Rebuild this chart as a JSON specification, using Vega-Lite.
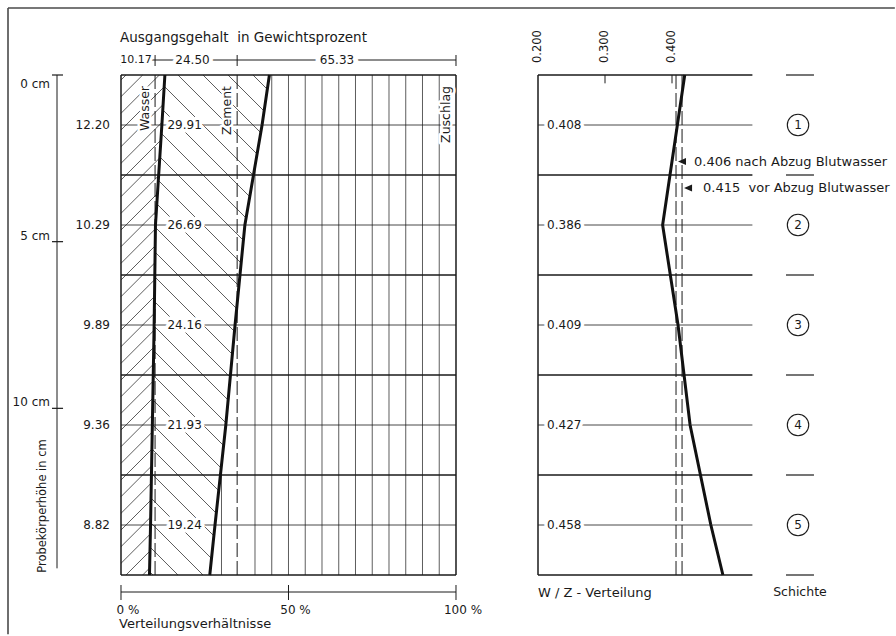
{
"$schema": "https://vega.github.io/schema/vega-lite/v6.json",
"width": 896, "height": 636,
"autosize": {"type": "fit", "contains": "padding"},
"padding": 0,
"background": "#ffffff",
"config": {"view": {"stroke": null}, "axis": {"disable": true}, "legend": {"disable": true}, "text": {"font": "DejaVu Sans", "color": "#1a1a1a"}, "rule": {"color": "#1a1a1a"}},
"datasets": {
"schichten": [
{"schicht": 1, "mitte": 1.5, "wasser": 12.20, "zement": 29.91, "wz": 0.408},
{"schicht": 2, "mitte": 4.5, "wasser": 10.29, "zement": 26.69, "wz": 0.386},
{"schicht": 3, "mitte": 7.5, "wasser": 9.89, "zement": 24.16, "wz": 0.409},
{"schicht": 4, "mitte": 10.5, "wasser": 9.36, "zement": 21.93, "wz": 0.427},
{"schicht": 5, "mitte": 13.5, "wasser": 8.82, "zement": 19.24, "wz": 0.458}
],
"profil": [
{"h": 0, "wasser": 13.1, "summe": 44.3, "wz": 0.419},
{"h": 1.5, "wasser": 12.2, "summe": 42.11, "wz": 0.408},
{"h": 4.5, "wasser": 10.29, "summe": 36.98, "wz": 0.386},
{"h": 7.5, "wasser": 9.89, "summe": 34.05, "wz": 0.409},
{"h": 10.5, "wasser": 9.36, "summe": 31.29, "wz": 0.427},
{"h": 13.5, "wasser": 8.82, "summe": 28.06, "wz": 0.458},
{"h": 15, "wasser": 8.5, "summe": 26.5, "wz": 0.476}
],
"grenzen": [{"h": 0}, {"h": 3}, {"h": 6}, {"h": 9}, {"h": 12}, {"h": 15}],
"ausgang": [
{"stoff": "Wasser", "von": 0, "bis": 10.17, "anteil": 10.17},
{"stoff": "Zement", "von": 10.17, "bis": 34.67, "anteil": 24.50},
{"stoff": "Zuschlag", "von": 34.67, "bis": 100, "anteil": 65.33}
],
"raster": [
{"p": 30, "von": 11.7}, {"p": 40, "von": 2.73}, {"p": 45, "von": 0}, {"p": 50, "von": 0}, {"p": 55, "von": 0}, {"p": 60, "von": 0}, {"p": 65, "von": 0}, {"p": 70, "von": 0}, {"p": 75, "von": 0}, {"p": 80, "von": 0}, {"p": 85, "von": 0}, {"p": 90, "von": 0}, {"p": 95, "von": 0}
],
"schraffur_wasser": [
{"x1": 0, "y1": 0.15, "x2": 1.49, "y2": 0},
{"x1": 0, "y1": 0.65, "x2": 6.47, "y2": 0},
{"x1": 0, "y1": 1.15, "x2": 11.44, "y2": 0},
{"x1": 0, "y1": 1.65, "x2": 12.89, "y2": 0.355},
{"x1": 0, "y1": 2.15, "x2": 12.57, "y2": 0.887},
{"x1": 0, "y1": 2.65, "x2": 12.25, "y2": 1.419},
{"x1": 0, "y1": 3.15, "x2": 11.91, "y2": 1.953},
{"x1": 0, "y1": 3.65, "x2": 11.57, "y2": 2.487},
{"x1": 0, "y1": 4.15, "x2": 11.23, "y2": 3.021},
{"x1": 0, "y1": 4.65, "x2": 10.89, "y2": 3.555},
{"x1": 0, "y1": 5.15, "x2": 10.55, "y2": 4.089},
{"x1": 0, "y1": 5.65, "x2": 10.27, "y2": 4.617},
{"x1": 0, "y1": 6.15, "x2": 10.21, "y2": 5.124},
{"x1": 0, "y1": 6.65, "x2": 10.14, "y2": 5.631},
{"x1": 0, "y1": 7.15, "x2": 10.07, "y2": 6.138},
{"x1": 0, "y1": 7.65, "x2": 10.00, "y2": 6.645},
{"x1": 0, "y1": 8.15, "x2": 9.94, "y2": 7.152},
{"x1": 0, "y1": 8.65, "x2": 9.86, "y2": 7.659},
{"x1": 0, "y1": 9.15, "x2": 9.77, "y2": 8.169},
{"x1": 0, "y1": 9.65, "x2": 9.68, "y2": 8.676},
{"x1": 0, "y1": 10.15, "x2": 9.59, "y2": 9.186},
{"x1": 0, "y1": 10.65, "x2": 9.50, "y2": 9.696},
{"x1": 0, "y1": 11.15, "x2": 9.41, "y2": 10.203},
{"x1": 0, "y1": 11.65, "x2": 9.32, "y2": 10.713},
{"x1": 0, "y1": 12.15, "x2": 9.23, "y2": 11.223},
{"x1": 0, "y1": 12.65, "x2": 9.14, "y2": 11.730},
{"x1": 0, "y1": 13.15, "x2": 9.05, "y2": 12.240},
{"x1": 0, "y1": 13.65, "x2": 8.96, "y2": 12.750},
{"x1": 0, "y1": 14.15, "x2": 8.87, "y2": 13.260},
{"x1": 0, "y1": 14.65, "x2": 8.76, "y2": 13.770},
{"x1": 1.49, "y1": 15, "x2": 8.65, "y2": 14.28},
{"x1": 6.47, "y1": 15, "x2": 8.55, "y2": 14.79}
],
"schraffur_zement": [
{"x1": 39.40, "y1": 0, "x2": 44.78, "y2": 0.54},
{"x1": 31.94, "y1": 0, "x2": 44.78, "y2": 1.29},
{"x1": 24.48, "y1": 0, "x2": 44.78, "y2": 2.04},
{"x1": 17.01, "y1": 0, "x2": 44.78, "y2": 2.79},
{"x1": 9.55, "y1": 0, "x2": 44.78, "y2": 3.54},
{"x1": 2.09, "y1": 0, "x2": 44.78, "y2": 4.29},
{"x1": 0, "y1": 0.54, "x2": 44.78, "y2": 5.04},
{"x1": 0, "y1": 1.29, "x2": 44.78, "y2": 5.79},
{"x1": 0, "y1": 2.04, "x2": 44.78, "y2": 6.54},
{"x1": 0, "y1": 2.79, "x2": 44.78, "y2": 7.29},
{"x1": 0, "y1": 3.54, "x2": 44.78, "y2": 8.04},
{"x1": 0, "y1": 4.29, "x2": 44.78, "y2": 8.79},
{"x1": 0, "y1": 5.04, "x2": 44.78, "y2": 9.54},
{"x1": 0, "y1": 5.79, "x2": 44.78, "y2": 10.29},
{"x1": 0, "y1": 6.54, "x2": 44.78, "y2": 11.04},
{"x1": 0, "y1": 7.29, "x2": 44.78, "y2": 11.79},
{"x1": 0, "y1": 8.04, "x2": 44.78, "y2": 12.54},
{"x1": 0, "y1": 8.79, "x2": 44.78, "y2": 13.29},
{"x1": 0, "y1": 9.54, "x2": 44.78, "y2": 14.04},
{"x1": 0, "y1": 10.29, "x2": 44.78, "y2": 14.79},
{"x1": 0, "y1": 11.04, "x2": 39.40, "y2": 15},
{"x1": 0, "y1": 11.79, "x2": 31.94, "y2": 15},
{"x1": 0, "y1": 12.54, "x2": 24.48, "y2": 15},
{"x1": 0, "y1": 13.29, "x2": 17.01, "y2": 15},
{"x1": 0, "y1": 14.04, "x2": 9.55, "y2": 15},
{"x1": 0, "y1": 14.79, "x2": 2.09, "y2": 15}
],
"hoehe": [{"cm": 0, "label": "0 cm"}, {"cm": 5, "label": "5 cm"}, {"cm": 10, "label": "10 cm"}],
"prozent": [{"p": 0, "label": "0 %"}, {"p": 50, "label": "50 %"}, {"p": 100, "label": "100 %"}],
"wz_achse": [{"wz": 0.2}, {"wz": 0.3}, {"wz": 0.4}],
"wz_gesamt": [
{"wz": 0.406, "beschriftung": "0.406 nach Abzug Blutwasser"},
{"wz": 0.415, "beschriftung": "0.415\u00a0 vor Abzug Blutwasser"}
]
},
"resolve": {"scale": {"x": "independent"}},
"layer": [
{"layer": [
{"data": {"values": [{}]}, "mark": {"type": "rule", "strokeWidth": 1.6, "color": "#4a4a4a"}, "encoding": {"x": {"datum": -33.73, "type": "quantitative", "scale": {"domain": [-36.119, 231.343], "nice": false, "zero": false}}, "x2": {"datum": 231}, "y": {"datum": -2.01, "type": "quantitative", "scale": {"domain": [-2.25, 16.83], "nice": false, "zero": false, "reverse": true}}}},
{"data": {"values": [{}]}, "mark": {"type": "rule", "strokeWidth": 1.6, "color": "#4a4a4a"}, "encoding": {"x": {"datum": -33.73, "type": "quantitative", "scale": {"domain": [-36.119, 231.343], "nice": false, "zero": false}}, "y": {"datum": -2.01, "type": "quantitative", "scale": {"domain": [-2.25, 16.83], "nice": false, "zero": false, "reverse": true}}, "y2": {"datum": 16.78}}},
{"data": {"name": "schraffur_zement"}, "mark": {"type": "rule", "strokeWidth": 0.8, "color": "#333333"}, "encoding": {"x": {"field": "x1", "type": "quantitative", "scale": {"domain": [-36.119, 231.343], "nice": false, "zero": false}}, "y": {"field": "y1", "type": "quantitative", "scale": {"domain": [-2.25, 16.83], "nice": false, "zero": false, "reverse": true}}, "x2": {"field": "x2"}, "y2": {"field": "y2"}}},
{"data": {"name": "profil"}, "mark": {"type": "area", "orient": "horizontal", "color": "#ffffff", "opacity": 1}, "encoding": {"y": {"field": "h", "type": "quantitative", "scale": {"domain": [-2.25, 16.83], "nice": false, "zero": false, "reverse": true}}, "x": {"field": "summe", "type": "quantitative", "scale": {"domain": [-36.119, 231.343], "nice": false, "zero": false}}, "x2": {"datum": 46}}},
{"data": {"name": "profil"}, "mark": {"type": "area", "orient": "horizontal", "color": "#ffffff", "opacity": 1}, "encoding": {"y": {"field": "h", "type": "quantitative", "scale": {"domain": [-2.25, 16.83], "nice": false, "zero": false, "reverse": true}}, "x": {"field": "wasser", "type": "quantitative", "scale": {"domain": [-36.119, 231.343], "nice": false, "zero": false}}, "x2": {"datum": -1}}},
{"data": {"name": "schraffur_wasser"}, "mark": {"type": "rule", "strokeWidth": 0.8, "color": "#333333"}, "encoding": {"x": {"field": "x1", "type": "quantitative", "scale": {"domain": [-36.119, 231.343], "nice": false, "zero": false}}, "y": {"field": "y1", "type": "quantitative", "scale": {"domain": [-2.25, 16.83], "nice": false, "zero": false, "reverse": true}}, "x2": {"field": "x2"}, "y2": {"field": "y2"}}},
{"data": {"name": "raster"}, "mark": {"type": "rule", "strokeWidth": 0.8, "color": "#333333"}, "encoding": {"x": {"field": "p", "type": "quantitative", "scale": {"domain": [-36.119, 231.343], "nice": false, "zero": false}}, "y": {"field": "von", "type": "quantitative", "scale": {"domain": [-2.25, 16.83], "nice": false, "zero": false, "reverse": true}}, "y2": {"datum": 15}}},
{"data": {"name": "ausgang"}, "transform": [{"filter": "datum.stoff != 'Zuschlag'"}], "mark": {"type": "rule", "strokeWidth": 1, "strokeDash": [14, 4]}, "encoding": {"x": {"field": "bis", "type": "quantitative", "scale": {"domain": [-36.119, 231.343], "nice": false, "zero": false}}, "y": {"datum": 0, "type": "quantitative", "scale": {"domain": [-2.25, 16.83], "nice": false, "zero": false, "reverse": true}}, "y2": {"datum": 15}}},
{"data": {"name": "schichten"}, "mark": {"type": "rule", "strokeWidth": 0.8}, "encoding": {"x": {"datum": 0, "type": "quantitative", "scale": {"domain": [-36.119, 231.343], "nice": false, "zero": false}}, "x2": {"datum": 100}, "y": {"field": "mitte", "type": "quantitative", "scale": {"domain": [-2.25, 16.83], "nice": false, "zero": false, "reverse": true}}}},
{"data": {"name": "grenzen"}, "mark": {"type": "rule", "strokeWidth": 1.5}, "encoding": {"x": {"datum": 0, "type": "quantitative", "scale": {"domain": [-36.119, 231.343], "nice": false, "zero": false}}, "x2": {"datum": 100}, "y": {"field": "h", "type": "quantitative", "scale": {"domain": [-2.25, 16.83], "nice": false, "zero": false, "reverse": true}}}},
{"data": {"values": [{}]}, "mark": {"type": "rule", "strokeWidth": 1.5}, "encoding": {"x": {"datum": 0, "type": "quantitative", "scale": {"domain": [-36.119, 231.343], "nice": false, "zero": false}}, "y": {"datum": 0, "type": "quantitative", "scale": {"domain": [-2.25, 16.83], "nice": false, "zero": false, "reverse": true}}, "y2": {"datum": 15}}},
{"data": {"values": [{}]}, "mark": {"type": "rule", "strokeWidth": 1.5}, "encoding": {"x": {"datum": 100, "type": "quantitative", "scale": {"domain": [-36.119, 231.343], "nice": false, "zero": false}}, "y": {"datum": 0, "type": "quantitative", "scale": {"domain": [-2.25, 16.83], "nice": false, "zero": false, "reverse": true}}, "y2": {"datum": 15}}},
{"data": {"name": "profil"}, "mark": {"type": "line", "strokeWidth": 3, "color": "#111111"}, "encoding": {"x": {"field": "wasser", "type": "quantitative", "scale": {"domain": [-36.119, 231.343], "nice": false, "zero": false}}, "y": {"field": "h", "type": "quantitative", "scale": {"domain": [-2.25, 16.83], "nice": false, "zero": false, "reverse": true}}, "order": {"field": "h", "type": "quantitative"}}},
{"data": {"name": "profil"}, "mark": {"type": "line", "strokeWidth": 3, "color": "#111111"}, "encoding": {"x": {"field": "summe", "type": "quantitative", "scale": {"domain": [-36.119, 231.343], "nice": false, "zero": false}}, "y": {"field": "h", "type": "quantitative", "scale": {"domain": [-2.25, 16.83], "nice": false, "zero": false, "reverse": true}}, "order": {"field": "h", "type": "quantitative"}}},
{"data": {"name": "schichten"}, "encoding": {"x": {"datum": 19, "type": "quantitative", "scale": {"domain": [-36.119, 231.343], "nice": false, "zero": false}}, "y": {"field": "mitte", "type": "quantitative", "scale": {"domain": [-2.25, 16.83], "nice": false, "zero": false, "reverse": true}}, "text": {"field": "zement", "type": "quantitative", "format": ".2f"}},
 "layer": [
 {"mark": {"type": "text", "fontSize": 12, "align": "center", "baseline": "middle", "color": "#ffffff", "stroke": "#ffffff", "strokeWidth": 7, "strokeJoin": "round"}},
 {"mark": {"type": "text", "fontSize": 12, "align": "center", "baseline": "middle"}}
 ]},
{"data": {"name": "ausgang"}, "encoding": {"x": {"field": "bis", "type": "quantitative", "scale": {"domain": [-36.119, 231.343], "nice": false, "zero": false}}, "y": {"datum": 0.33, "type": "quantitative", "scale": {"domain": [-2.25, 16.83], "nice": false, "zero": false, "reverse": true}}, "text": {"field": "stoff", "type": "nominal"}},
 "layer": [
 {"mark": {"type": "text", "fontSize": 12.5, "angle": 270, "align": "right", "baseline": "middle", "dy": -10, "color": "#ffffff", "stroke": "#ffffff", "strokeWidth": 5, "strokeJoin": "round"}},
 {"mark": {"type": "text", "fontSize": 12.5, "angle": 270, "align": "right", "baseline": "middle", "dy": -10}}
 ]},
{"data": {"name": "schichten"}, "mark": {"type": "text", "fontSize": 12, "align": "right", "baseline": "middle"}, "encoding": {"x": {"datum": -3.3, "type": "quantitative", "scale": {"domain": [-36.119, 231.343], "nice": false, "zero": false}}, "y": {"field": "mitte", "type": "quantitative", "scale": {"domain": [-2.25, 16.83], "nice": false, "zero": false, "reverse": true}}, "text": {"field": "wasser", "type": "quantitative", "format": ".2f"}}},
{"data": {"values": [{}]}, "mark": {"type": "text", "fontSize": 13.5, "align": "left", "baseline": "middle", "dx": -1, "text": "Ausgangsgehalt\u00a0 in Gewichtsprozent"}, "encoding": {"x": {"datum": 0, "type": "quantitative", "scale": {"domain": [-36.119, 231.343], "nice": false, "zero": false}}, "y": {"datum": -1.11, "type": "quantitative", "scale": {"domain": [-2.25, 16.83], "nice": false, "zero": false, "reverse": true}}}},
{"data": {"values": [{}]}, "mark": {"type": "rule", "strokeWidth": 1}, "encoding": {"x": {"datum": 0, "type": "quantitative", "scale": {"domain": [-36.119, 231.343], "nice": false, "zero": false}}, "x2": {"datum": 100}, "y": {"datum": -0.45, "type": "quantitative", "scale": {"domain": [-2.25, 16.83], "nice": false, "zero": false, "reverse": true}}}},
{"data": {"name": "ausgang"}, "mark": {"type": "rule", "strokeWidth": 1}, "encoding": {"x": {"field": "bis", "type": "quantitative", "scale": {"domain": [-36.119, 231.343], "nice": false, "zero": false}}, "y": {"datum": -0.6, "type": "quantitative", "scale": {"domain": [-2.25, 16.83], "nice": false, "zero": false, "reverse": true}}, "y2": {"datum": -0.27}}},
{"data": {"name": "ausgang"}, "transform": [{"filter": "datum.stoff == 'Wasser'"}], "mark": {"type": "rule", "strokeWidth": 1}, "encoding": {"x": {"field": "von", "type": "quantitative", "scale": {"domain": [-36.119, 231.343], "nice": false, "zero": false}}, "y": {"datum": -0.6, "type": "quantitative", "scale": {"domain": [-2.25, 16.83], "nice": false, "zero": false, "reverse": true}}, "y2": {"datum": -0.27}}},
{"data": {"name": "ausgang"}, "transform": [{"filter": "datum.stoff == 'Wasser'"}], "encoding": {"x": {"datum": 4.5, "type": "quantitative", "scale": {"domain": [-36.119, 231.343], "nice": false, "zero": false}}, "y": {"datum": -0.45, "type": "quantitative", "scale": {"domain": [-2.25, 16.83], "nice": false, "zero": false, "reverse": true}}, "text": {"field": "anteil", "type": "quantitative", "format": ".2f"}},
 "layer": [
 {"mark": {"type": "text", "fontSize": 11, "align": "center", "baseline": "middle", "color": "#ffffff", "stroke": "#ffffff", "strokeWidth": 6, "strokeJoin": "round"}},
 {"mark": {"type": "text", "fontSize": 11, "align": "center", "baseline": "middle"}}
 ]},
{"data": {"name": "ausgang"}, "transform": [{"filter": "datum.stoff == 'Zement'"}], "encoding": {"x": {"datum": 21.34, "type": "quantitative", "scale": {"domain": [-36.119, 231.343], "nice": false, "zero": false}}, "y": {"datum": -0.45, "type": "quantitative", "scale": {"domain": [-2.25, 16.83], "nice": false, "zero": false, "reverse": true}}, "text": {"field": "anteil", "type": "quantitative", "format": ".2f"}},
 "layer": [
 {"mark": {"type": "text", "fontSize": 12, "align": "center", "baseline": "middle", "color": "#ffffff", "stroke": "#ffffff", "strokeWidth": 8, "strokeJoin": "round"}},
 {"mark": {"type": "text", "fontSize": 12, "align": "center", "baseline": "middle"}}
 ]},
{"data": {"name": "ausgang"}, "transform": [{"filter": "datum.stoff == 'Zuschlag'"}], "encoding": {"x": {"datum": 64.48, "type": "quantitative", "scale": {"domain": [-36.119, 231.343], "nice": false, "zero": false}}, "y": {"datum": -0.45, "type": "quantitative", "scale": {"domain": [-2.25, 16.83], "nice": false, "zero": false, "reverse": true}}, "text": {"field": "anteil", "type": "quantitative", "format": ".2f"}},
 "layer": [
 {"mark": {"type": "text", "fontSize": 12, "align": "center", "baseline": "middle", "color": "#ffffff", "stroke": "#ffffff", "strokeWidth": 10, "strokeJoin": "round"}},
 {"mark": {"type": "text", "fontSize": 12, "align": "center", "baseline": "middle"}}
 ]},
{"data": {"values": [{}]}, "mark": {"type": "rule", "strokeWidth": 1}, "encoding": {"x": {"datum": 0, "type": "quantitative", "scale": {"domain": [-36.119, 231.343], "nice": false, "zero": false}}, "x2": {"datum": 100}, "y": {"datum": 15.51, "type": "quantitative", "scale": {"domain": [-2.25, 16.83], "nice": false, "zero": false, "reverse": true}}}},
{"data": {"name": "prozent"}, "mark": {"type": "rule", "strokeWidth": 1}, "encoding": {"x": {"field": "p", "type": "quantitative", "scale": {"domain": [-36.119, 231.343], "nice": false, "zero": false}}, "y": {"datum": 15.3, "type": "quantitative", "scale": {"domain": [-2.25, 16.83], "nice": false, "zero": false, "reverse": true}}, "y2": {"datum": 15.75}}},
{"data": {"name": "prozent"}, "mark": {"type": "text", "fontSize": 12, "align": "center", "baseline": "middle", "dx": 7}, "encoding": {"x": {"field": "p", "type": "quantitative", "scale": {"domain": [-36.119, 231.343], "nice": false, "zero": false}}, "y": {"datum": 16.06, "type": "quantitative", "scale": {"domain": [-2.25, 16.83], "nice": false, "zero": false, "reverse": true}}, "text": {"field": "label", "type": "nominal"}}},
{"data": {"values": [{}]}, "mark": {"type": "text", "fontSize": 13, "align": "left", "baseline": "middle", "dx": -2, "text": "Verteilungsverhältnisse"}, "encoding": {"x": {"datum": 0, "type": "quantitative", "scale": {"domain": [-36.119, 231.343], "nice": false, "zero": false}}, "y": {"datum": 16.46, "type": "quantitative", "scale": {"domain": [-2.25, 16.83], "nice": false, "zero": false, "reverse": true}}}},
{"data": {"values": [{}]}, "mark": {"type": "rule", "strokeWidth": 1}, "encoding": {"x": {"datum": -19.1, "type": "quantitative", "scale": {"domain": [-36.119, 231.343], "nice": false, "zero": false}}, "y": {"datum": 0, "type": "quantitative", "scale": {"domain": [-2.25, 16.83], "nice": false, "zero": false, "reverse": true}}, "y2": {"datum": 14.8}}},
{"data": {"name": "hoehe"}, "mark": {"type": "rule", "strokeWidth": 1.2}, "encoding": {"x": {"datum": -20.6, "type": "quantitative", "scale": {"domain": [-36.119, 231.343], "nice": false, "zero": false}}, "x2": {"datum": -17.3}, "y": {"field": "cm", "type": "quantitative", "scale": {"domain": [-2.25, 16.83], "nice": false, "zero": false, "reverse": true}}}},
{"data": {"name": "hoehe"}, "transform": [{"filter": "datum.cm == 0"}], "mark": {"type": "text", "fontSize": 12, "align": "right", "baseline": "alphabetic", "dy": 13}, "encoding": {"x": {"datum": -21.2, "type": "quantitative", "scale": {"domain": [-36.119, 231.343], "nice": false, "zero": false}}, "y": {"field": "cm", "type": "quantitative", "scale": {"domain": [-2.25, 16.83], "nice": false, "zero": false, "reverse": true}}, "text": {"field": "label", "type": "nominal"}}},
{"data": {"name": "hoehe"}, "transform": [{"filter": "datum.cm > 0"}], "mark": {"type": "text", "fontSize": 12, "align": "right", "baseline": "alphabetic", "dy": -2}, "encoding": {"x": {"datum": -21.2, "type": "quantitative", "scale": {"domain": [-36.119, 231.343], "nice": false, "zero": false}}, "y": {"field": "cm", "type": "quantitative", "scale": {"domain": [-2.25, 16.83], "nice": false, "zero": false, "reverse": true}}, "text": {"field": "label", "type": "nominal"}}},
{"data": {"values": [{}]}, "mark": {"type": "text", "fontSize": 11.5, "angle": 270, "align": "center", "baseline": "middle", "text": "Probekörperhöhe in cm"}, "encoding": {"x": {"datum": -23.3, "type": "quantitative", "scale": {"domain": [-36.119, 231.343], "nice": false, "zero": false}}, "y": {"datum": 12.93, "type": "quantitative", "scale": {"domain": [-2.25, 16.83], "nice": false, "zero": false, "reverse": true}}}}
]},
{"layer": [
{"data": {"name": "wz_gesamt"}, "mark": {"type": "rule", "strokeWidth": 1, "strokeDash": [14, 4]}, "encoding": {"x": {"field": "wz", "type": "quantitative", "scale": {"domain": [-0.60299, 0.73433], "nice": false, "zero": false}}, "y": {"datum": 0, "type": "quantitative", "scale": {"domain": [-2.25, 16.83], "nice": false, "zero": false, "reverse": true}}, "y2": {"datum": 15}}},
{"data": {"name": "schichten"}, "mark": {"type": "rule", "strokeWidth": 0.8}, "encoding": {"x": {"datum": 0.2, "type": "quantitative", "scale": {"domain": [-0.60299, 0.73433], "nice": false, "zero": false}}, "x2": {"datum": 0.52}, "y": {"field": "mitte", "type": "quantitative", "scale": {"domain": [-2.25, 16.83], "nice": false, "zero": false, "reverse": true}}}},
{"data": {"name": "grenzen"}, "mark": {"type": "rule", "strokeWidth": 1.5}, "encoding": {"x": {"datum": 0.2, "type": "quantitative", "scale": {"domain": [-0.60299, 0.73433], "nice": false, "zero": false}}, "x2": {"datum": 0.52}, "y": {"field": "h", "type": "quantitative", "scale": {"domain": [-2.25, 16.83], "nice": false, "zero": false, "reverse": true}}}},
{"data": {"values": [{}]}, "mark": {"type": "rule", "strokeWidth": 1.5}, "encoding": {"x": {"datum": 0.2, "type": "quantitative", "scale": {"domain": [-0.60299, 0.73433], "nice": false, "zero": false}}, "y": {"datum": 0, "type": "quantitative", "scale": {"domain": [-2.25, 16.83], "nice": false, "zero": false, "reverse": true}}, "y2": {"datum": 15}}},
{"data": {"name": "wz_achse"}, "transform": [{"filter": "datum.wz > 0.25"}], "mark": {"type": "rule", "strokeWidth": 1}, "encoding": {"x": {"field": "wz", "type": "quantitative", "scale": {"domain": [-0.60299, 0.73433], "nice": false, "zero": false}}, "y": {"datum": 0, "type": "quantitative", "scale": {"domain": [-2.25, 16.83], "nice": false, "zero": false, "reverse": true}}, "y2": {"datum": 0.25}}},
{"data": {"name": "profil"}, "mark": {"type": "line", "strokeWidth": 3, "color": "#111111"}, "encoding": {"x": {"field": "wz", "type": "quantitative", "scale": {"domain": [-0.60299, 0.73433], "nice": false, "zero": false}}, "y": {"field": "h", "type": "quantitative", "scale": {"domain": [-2.25, 16.83], "nice": false, "zero": false, "reverse": true}}, "order": {"field": "h", "type": "quantitative"}}},
{"data": {"name": "schichten"}, "encoding": {"x": {"datum": 0.2392, "type": "quantitative", "scale": {"domain": [-0.60299, 0.73433], "nice": false, "zero": false}}, "y": {"field": "mitte", "type": "quantitative", "scale": {"domain": [-2.25, 16.83], "nice": false, "zero": false, "reverse": true}}, "text": {"field": "wz", "type": "quantitative", "format": ".3f"}},
 "layer": [
 {"mark": {"type": "text", "fontSize": 12, "align": "center", "baseline": "middle", "color": "#ffffff", "stroke": "#ffffff", "strokeWidth": 7, "strokeJoin": "round"}},
 {"mark": {"type": "text", "fontSize": 12, "align": "center", "baseline": "middle"}}
 ]},
{"data": {"name": "wz_achse"}, "mark": {"type": "text", "fontSize": 11.5, "angle": 270, "align": "left", "baseline": "middle"}, "encoding": {"x": {"field": "wz", "type": "quantitative", "scale": {"domain": [-0.60299, 0.73433], "nice": false, "zero": false}}, "y": {"datum": -0.36, "type": "quantitative", "scale": {"domain": [-2.25, 16.83], "nice": false, "zero": false, "reverse": true}}, "text": {"field": "wz", "type": "quantitative", "format": ".3f"}}},
{"data": {"name": "wz_gesamt"}, "transform": [{"filter": "datum.wz < 0.41"}], "encoding": {"x": {"field": "wz", "type": "quantitative", "scale": {"domain": [-0.60299, 0.73433], "nice": false, "zero": false}}, "y": {"datum": 2.595, "type": "quantitative", "scale": {"domain": [-2.25, 16.83], "nice": false, "zero": false, "reverse": true}}},
 "layer": [
 {"mark": {"type": "point", "shape": "M0.2,0L1,-0.35L1,0.35Z", "size": 400, "filled": true, "color": "#1a1a1a", "opacity": 1, "strokeWidth": 0}},
 {"mark": {"type": "text", "fontSize": 13, "align": "left", "baseline": "middle", "dx": 18}, "encoding": {"text": {"field": "beschriftung", "type": "nominal"}}}
 ]},
{"data": {"name": "wz_gesamt"}, "transform": [{"filter": "datum.wz > 0.41"}], "encoding": {"x": {"field": "wz", "type": "quantitative", "scale": {"domain": [-0.60299, 0.73433], "nice": false, "zero": false}}, "y": {"datum": 3.39, "type": "quantitative", "scale": {"domain": [-2.25, 16.83], "nice": false, "zero": false, "reverse": true}}},
 "layer": [
 {"mark": {"type": "point", "shape": "M0.2,0L1,-0.35L1,0.35Z", "size": 400, "filled": true, "color": "#1a1a1a", "opacity": 1, "strokeWidth": 0}},
 {"mark": {"type": "text", "fontSize": 13, "align": "left", "baseline": "middle", "dx": 21}, "encoding": {"text": {"field": "beschriftung", "type": "nominal"}}}
 ]},
{"data": {"name": "grenzen"}, "mark": {"type": "rule", "strokeWidth": 1.2}, "encoding": {"x": {"datum": 0.5701, "type": "quantitative", "scale": {"domain": [-0.60299, 0.73433], "nice": false, "zero": false}}, "x2": {"datum": 0.6119}, "y": {"field": "h", "type": "quantitative", "scale": {"domain": [-2.25, 16.83], "nice": false, "zero": false, "reverse": true}}}},
{"data": {"name": "schichten"}, "mark": {"type": "point", "shape": "circle", "size": 460, "filled": false, "strokeWidth": 1.1, "color": "#1a1a1a", "opacity": 1}, "encoding": {"x": {"datum": 0.5881, "type": "quantitative", "scale": {"domain": [-0.60299, 0.73433], "nice": false, "zero": false}}, "y": {"field": "mitte", "type": "quantitative", "scale": {"domain": [-2.25, 16.83], "nice": false, "zero": false, "reverse": true}}}},
{"data": {"name": "schichten"}, "mark": {"type": "text", "fontSize": 12, "align": "center", "baseline": "middle"}, "encoding": {"x": {"datum": 0.5881, "type": "quantitative", "scale": {"domain": [-0.60299, 0.73433], "nice": false, "zero": false}}, "y": {"field": "mitte", "type": "quantitative", "scale": {"domain": [-2.25, 16.83], "nice": false, "zero": false, "reverse": true}}, "text": {"field": "schicht", "type": "nominal"}}},
{"data": {"values": [{}]}, "mark": {"type": "text", "fontSize": 13, "align": "left", "baseline": "middle", "text": "W / Z - Verteilung"}, "encoding": {"x": {"datum": 0.2, "type": "quantitative", "scale": {"domain": [-0.60299, 0.73433], "nice": false, "zero": false}}, "y": {"datum": 15.54, "type": "quantitative", "scale": {"domain": [-2.25, 16.83], "nice": false, "zero": false, "reverse": true}}}},
{"data": {"values": [{}]}, "mark": {"type": "text", "fontSize": 12.5, "align": "center", "baseline": "middle", "text": "Schichte"}, "encoding": {"x": {"datum": 0.591, "type": "quantitative", "scale": {"domain": [-0.60299, 0.73433], "nice": false, "zero": false}}, "y": {"datum": 15.51, "type": "quantitative", "scale": {"domain": [-2.25, 16.83], "nice": false, "zero": false, "reverse": true}}}}
]}
]
}
